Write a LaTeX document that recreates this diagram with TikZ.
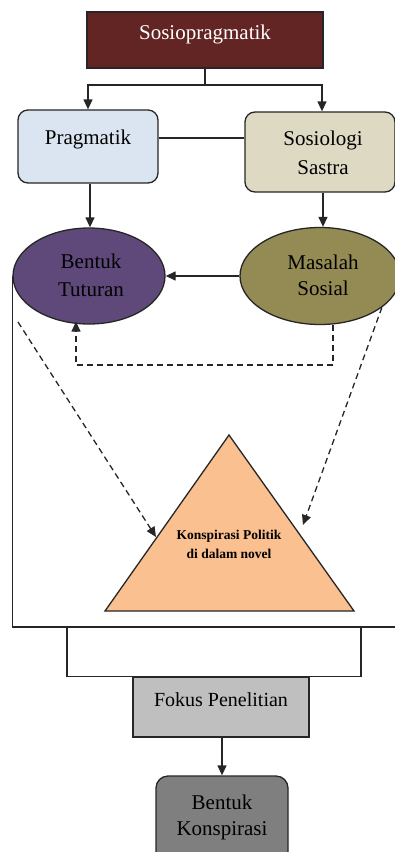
\documentclass[tikz,border=0pt]{standalone}
\usepackage{fontspec}
\setmainfont{Liberation Serif}
\usetikzlibrary{arrows.meta,shapes.geometric}
\definecolor{cSosio}{HTML}{632523}
\definecolor{cPrag}{HTML}{DBE5F1}
\definecolor{cSast}{HTML}{DDD9C3}
\definecolor{cBent}{HTML}{5F497A}
\definecolor{cMasa}{HTML}{948A54}
\definecolor{cTri}{HTML}{FAC090}
\definecolor{cFok}{HTML}{BFBFBF}
\definecolor{cKons}{HTML}{7F7F7F}
\definecolor{cLine}{HTML}{262626}
\tikzset{
  box/.style={draw=cLine, line width=1.3pt, rectangle, inner sep=0pt},
  rbox/.style={box, rounded corners=10pt},
  ell/.style={draw=cLine, line width=1.3pt, ellipse, inner sep=0pt},
  txt/.style={anchor=base, inner sep=0pt, font=\fontsize{21}{25}\selectfont},
  smalltxt/.style={anchor=base, inner sep=0pt, font=\fontsize{13.5}{16}\selectfont\bfseries},
  conn/.style={draw=cLine, line width=1.3pt},
  arr/.style={conn, -{Triangle[length=10pt,width=9pt]}},
  darr/.style={arr, dash pattern=on 6pt off 4pt}
}
\begin{document}
\begin{tikzpicture}[x=1pt,y=-1pt]
\useasboundingbox (0,0) rectangle (395,852);
% boxes
\node[box, fill=cSosio, minimum width=236pt, minimum height=56pt] (sp) at (205,40) {};
\node[txt, text=white] (spt) at (205,39) {Sosiopragmatik};
\node[rbox, fill=cPrag, minimum width=140pt, minimum height=73pt] (pr) at (88,146.5) {};
\node[txt] (prt) at (88,144) {Pragmatik};
\node[rbox, fill=cSast, minimum width=150pt, minimum height=80pt] (ss) at (320,152) {};
\node[txt] (sst1) at (323,145) {Sosiologi};
\node[txt] (sst2) at (323,174) {Sastra};
\node[ell, fill=cBent, minimum width=152pt, minimum height=96pt] (bt) at (89,276) {};
\node[txt] (btt1) at (91,268) {Bentuk};
\node[txt] (btt2) at (91,296) {Tuturan};
\node[ell, fill=cMasa, minimum width=160pt, minimum height=97pt] (ms) at (320,276) {};
\node[txt] (mst1) at (323,269) {Masalah};
\node[txt] (mst2) at (323,295) {Sosial};
% triangle
\coordinate (tA) at (229,435);
\coordinate (tL) at (105,611);
\coordinate (tR) at (354,611);
\draw[fill=cTri, draw=cLine, line width=1.3pt] (tA) -- (tL) -- (tR) -- cycle;
\node[smalltxt] (tt1) at (229,539) {Konspirasi Politik};
\node[smalltxt] (tt2) at (229,558) {di dalam novel};
\node[box, fill=cFok, minimum width=176pt, minimum height=60pt] (fk) at (221,707) {};
\node[txt, font=\fontsize{20}{24}\selectfont] (fkt) at (221,706) {Fokus Penelitian};
\node[rbox, rounded corners=12pt, fill=cKons, minimum width=132pt, minimum height=90pt] (bk) at (222,821) {};
\node[txt] (bkt1) at (222,809) {Bentuk};
\node[txt] (bkt2) at (222,835) {Konspirasi};
% connectors
\coordinate (j) at (205,85);
\draw[conn] (sp.south) -- (j);
\draw[arr] (j) -| (pr.north);
\draw[arr] (j) -| (ss.north -| 322,0);
\draw[conn] (pr.east |- 0,138) -- (ss.west |- 0,138);
\draw[arr] (pr.south -| 90,0) -- (bt.north -| 90,0);
\draw[arr] (ss.south -| 323,0) -- (ms.north -| 323,0);
\draw[arr] (ms.west) -- (bt.east);
\coordinate (d1) at (333,365);
\coordinate (d2) at (76,365);
\draw[darr] (ms.south -| d1) -- (d1) -- (d2) -- ([yshift=3pt]bt.south -| d2);
\coordinate (a1) at (18,322);
\coordinate (tlh) at (156,537);
\coordinate (trh) at (303,525);
\draw[darr] (a1) -- (tlh);
\draw[darr] (ms.-27) -- (trh);
\coordinate (c2) at (396,627);
\draw[conn] (bt.west) |- (c2);
\coordinate (b1) at (67,627);
\coordinate (b2) at (361,627);
\draw[conn] (b1) -- (b1 |- fk.north) -- (b2 |- fk.north) -- (b2);
\draw[arr] (fk.south -| 222,0) -- (bk.north -| 222,0);
\end{tikzpicture}
\end{document}
